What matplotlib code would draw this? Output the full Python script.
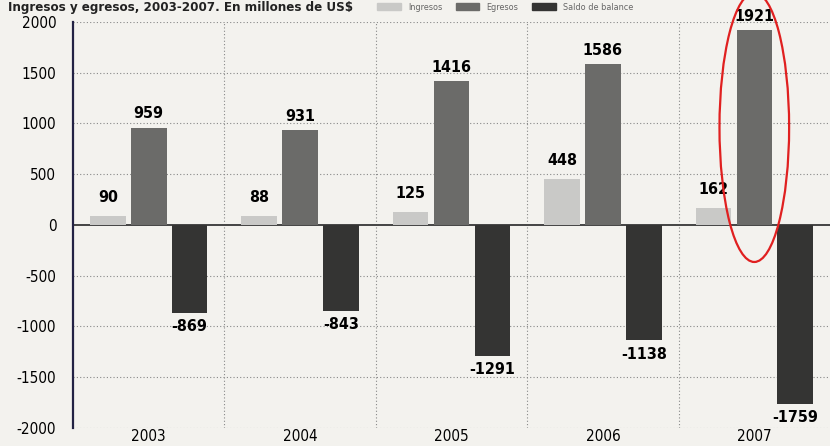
import matplotlib
matplotlib.use("Agg")
import matplotlib.pyplot as plt
from matplotlib.patches import Patch, Ellipse
import numpy as np

years = ["2003", "2004", "2005", "2006", "2007"]
ingresos = [90, 88, 125, 448, 162]
egresos = [959, 931, 1416, 1586, 1921]
saldo = [-869, -843, -1291, -1138, -1759]
yticks = [2000, 1500, 1000, 500, 0, -500, -1000, -1500, -2000]
title = "Ingresos y egresos, 2003-2007. En millones de US$"
legend_labels = ["Ingresos", "Egresos", "Saldo de balance"]
highlight_year = "2007"

plt.rcParams['font.family'] = ['DejaVu Sans']
plt.rcParams['font.stretch'] = 'condensed'

bg = "#f3f2ee"
c_ing = "#c9c9c7"
c_egr = "#6b6b69"
c_sal = "#343433"

fig = plt.figure(figsize=(8.3, 4.46), dpi=100, facecolor=bg)
ax = fig.add_axes([0.088, 0.0404, 0.912, 0.9106])
ax.set_facecolor(bg)

x = np.arange(len(years))
w = 0.235
off = 0.27
ax.bar(x - off, ingresos, w, color=c_ing, zorder=3)
ax.bar(x, egresos, w, color=c_egr, zorder=3)
ax.bar(x + off, saldo, w, color=c_sal, zorder=3)

for xi, v in zip(x - off, ingresos):
    ax.text(xi, v + 110, str(v), ha='center', va='bottom', fontsize=11.5, fontweight='bold', zorder=4)
for xi, v in zip(x, egresos):
    ax.text(xi, v + 60, str(v), ha='center', va='bottom', fontsize=11.5, fontweight='bold', zorder=4)
for xi, v in zip(x + off, saldo):
    ax.text(xi, v - 60, str(v), ha='center', va='top', fontsize=11.5, fontweight='bold', zorder=4)

# red highlight ellipse around the highlighted year's egresos bar
hi = years.index(highlight_year)
ax.add_patch(Ellipse((hi, egresos[hi] / 2), width=0.46, height=egresos[hi] * 1.38, angle=0,
                     fill=False, edgecolor="#e02020", linewidth=1.6, zorder=5, clip_on=False))

ax.set_xlim(-0.5, len(years) - 0.5)
ax.set_ylim(-2000, 2000)
ax.set_yticks(yticks)
ax.set_yticklabels([str(t) for t in yticks], fontsize=11)
ax.set_xticks(x)
ax.set_xticklabels(years, fontsize=11)
ax.tick_params(axis='x', length=0, pad=1)
ax.tick_params(axis='y', length=0, pad=12)

for t in yticks:
    if t != 0:
        ax.axhline(t, color="#888888", linestyle=(0, (1, 2)), linewidth=0.8, zorder=1)
for xb in np.arange(0.5, len(years) - 0.5, 1):
    ax.axvline(xb, color="#888888", linestyle=(0, (1, 2)), linewidth=0.8, zorder=1)
ax.axhline(0, color="#444444", linewidth=1.4, zorder=2)

for s in ['top', 'right', 'bottom']:
    ax.spines[s].set_visible(False)
ax.spines['left'].set_color("#222244")
ax.spines['left'].set_linewidth(1.6)

fig.text(0.01, 0.997, title, ha='left', va='top', fontsize=9.5, fontweight='bold', color="#222222")
handles = [Patch(color=c_ing), Patch(color=c_egr), Patch(color=c_sal)]
fig.legend(handles, legend_labels, loc='upper left', bbox_to_anchor=(0.445, 1.012), ncol=3,
           frameon=False, fontsize=6.5, handlelength=2.6, handleheight=0.9, columnspacing=1.5,
           labelcolor="#666666")

fig.savefig("out.png", dpi=100, facecolor=bg)
